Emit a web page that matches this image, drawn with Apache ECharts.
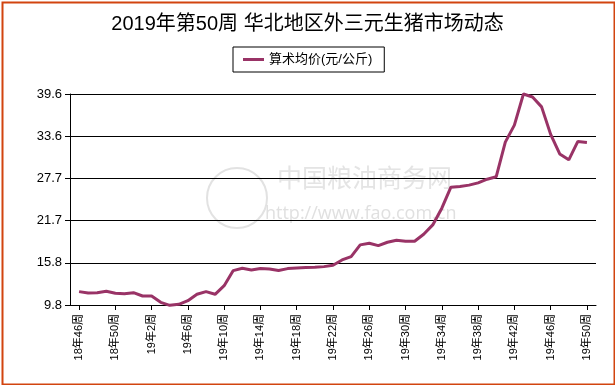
<!DOCTYPE html>
<html>
<head>
<meta charset="utf-8">
<script src="https://cdn.jsdelivr.net/npm/echarts@6/dist/echarts.min.js"></script>
<style>html,body{margin:0;padding:0;background:#fff;}#c{width:615px;height:385px;}</style>
</head>
<body>
<div id="c"></div>
<script>
var titleText = '2019年第50周 华北地区外三元生猪市场动态';
var seriesName = '算术均价(元/公斤)';
var weeks = [
  '18年46周','18年47周','18年48周','18年49周','18年50周','18年51周','18年52周',
  '19年1周','19年2周','19年3周','19年4周','19年5周','19年6周','19年7周','19年8周','19年9周',
  '19年10周','19年11周','19年12周','19年13周','19年14周','19年15周','19年16周','19年17周',
  '19年18周','19年19周','19年20周','19年21周','19年22周','19年23周','19年24周','19年25周',
  '19年26周','19年27周','19年28周','19年29周','19年30周','19年31周','19年32周','19年33周',
  '19年34周','19年35周','19年36周','19年37周','19年38周','19年39周','19年40周','19年41周',
  '19年42周','19年43周','19年44周','19年45周','19年46周','19年47周','19年48周','19年49周','19年50周'
];
var prices = [
  11.69,11.50,11.54,11.73,11.45,11.40,11.54,
  11.07,11.07,10.18,9.75,9.90,10.41,11.31,11.69,11.31,
  12.53,14.66,14.99,14.75,14.94,14.89,14.66,14.94,
  15.03,15.08,15.13,15.22,15.41,16.16,16.64,18.29,
  18.52,18.19,18.66,18.95,18.80,18.80,19.79,21.11,
  23.47,26.44,26.54,26.73,27.05,27.57,27.92,32.80,
  35.20,39.60,39.17,37.78,33.90,31.13,30.30,32.90,32.76
];
var yTickLabels = ['9.8','15.8','21.7','27.7','33.6','39.6'];
var yMin = 9.8, yMax = 39.6;

var cats = [''].concat(weeks).concat(['']);
var vals = [null].concat(prices).concat([null]);
var showIdx = function (i) { return i >= 1 && i <= weeks.length && (i - 1) % 4 === 0; };
var ff = '"Liberation Sans", Arial, "Noto Sans CJK SC", sans-serif';

var chart = echarts.init(document.getElementById('c'), null, {renderer: 'canvas'});
chart.setOption({
  animation: false,
  backgroundColor: '#fff',
  title: {
    text: titleText, left: 'center', top: 9,
    textStyle: {fontSize: 20, fontWeight: 'normal', color: '#000', fontFamily: ff}
  },
  legend: {
    left: 233, top: 47,
    padding: [6, 12, 6, 10],
    borderColor: '#000', borderWidth: 1,
    icon: 'rect', itemWidth: 21, itemHeight: 3,
    textStyle: {fontSize: 13, color: '#000', fontFamily: ff},
    data: [seriesName]
  },
  grid: {left: 70, right: 19, top: 94, bottom: 80, containLabel: false},
  xAxis: {
    type: 'category', data: cats, boundaryGap: false,
    axisLine: {show: true, lineStyle: {color: '#000', width: 1}},
    axisTick: {show: true, interval: function (i) { return showIdx(i); }, length: 5, lineStyle: {color: '#000'}},
    axisLabel: {interval: function (i) { return showIdx(i); }, rotate: 90, margin: 9, fontSize: 11, color: '#000', fontFamily: ff},
    splitLine: {show: false}
  },
  yAxis: {
    type: 'value', min: yMin, max: yMax, interval: (yMax - yMin) / 5,
    axisLine: {show: true, lineStyle: {color: '#000', width: 1}},
    axisTick: {show: true, length: 5, lineStyle: {color: '#000'}},
    axisLabel: {
      margin: 8, fontSize: 13, color: '#000', fontFamily: ff,
      formatter: function (v) {
        var best = yTickLabels[0], d = 1e9;
        yTickLabels.forEach(function (t) { var dd = Math.abs(parseFloat(t) - v); if (dd < d) { d = dd; best = t; } });
        return best;
      }
    },
    splitLine: {show: true, lineStyle: {color: '#000', width: 1}}
  },
  graphic: [
    {type: 'rect', left: 0, top: 0, z: 100, silent: true,
     shape: {x: 1, y: 1, width: 612, height: 382},
     style: {fill: 'none', stroke: '#D2440F', lineWidth: 2}},
    {type: 'circle', z: -1, silent: true, shape: {cx: 237, cy: 198, r: 30},
     style: {fill: 'none', stroke: '#e2e2e2', lineWidth: 2}},
    {type: 'text', z: -1, silent: true, left: 277, top: 165,
     style: {text: '中国粮油商务网', fill: '#e4e4e4', font: '25px "Noto Sans CJK SC", sans-serif'}},
    {type: 'text', z: -1, silent: true, left: 265, top: 205,
     style: {text: 'http://www.fao.com.cn', fill: '#e0e0e0', font: '18px "Open Sans", sans-serif'}}
  ],
  series: [{
    name: seriesName, type: 'line', data: vals,
    showSymbol: false, symbol: 'none', clip: false, connectNulls: false,
    lineStyle: {color: '#993366', width: 3},
    itemStyle: {color: '#993366'}
  }]
});
</script>
</body>
</html>
